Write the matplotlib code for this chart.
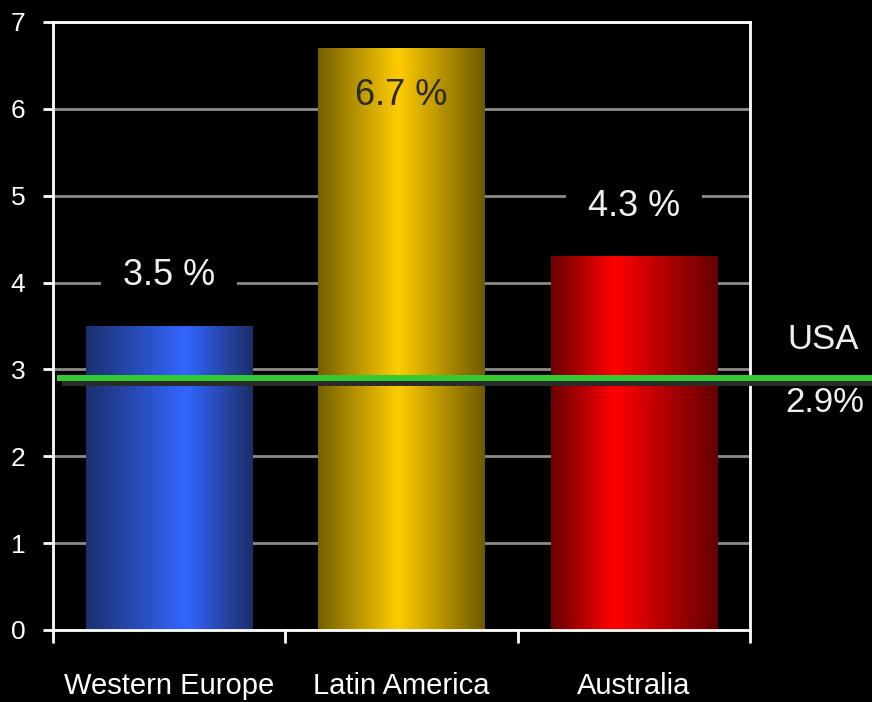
import matplotlib
matplotlib.use("Agg")
import matplotlib.pyplot as plt
import numpy as np
from matplotlib.colors import LinearSegmentedColormap
import matplotlib.transforms as mtransforms

regions = ["Western Europe", "Latin America", "Australia"]
growth = [3.5, 6.7, 4.3]
labels = ["3.5 %", "6.7 %", "4.3 %"]
usa_growth = 2.9

# gradient stops for each bar (position, colour)
grads = [
    [(0.0, "#1c2f6e"), (0.6, "#3366ff"), (1.0, "#1c2e68")],
    [(0.0, "#756000"), (0.48, "#ffcc00"), (1.0, "#6e5a00")],
    [(0.0, "#6a0000"), (0.38, "#ff0000"), (1.0, "#620000")],
]

plt.rcParams['font.family'] = ['Liberation Sans', 'DejaVu Sans']

fig = plt.figure(figsize=(8.72, 7.02), dpi=100, facecolor="black")
ax = fig.add_axes([0.0608, 0.1026, 0.7993, 0.8661], facecolor="black")

x = np.arange(len(regions))
bars = ax.bar(x, growth, width=0.715, color="none", zorder=2)

for bar, stops in zip(bars, grads):
    cmap = LinearSegmentedColormap.from_list("g", stops)
    grad = np.linspace(0, 1, 256).reshape(1, -1)
    x0, y0 = bar.get_x(), bar.get_y()
    im = ax.imshow(grad, cmap=cmap, aspect="auto", zorder=2,
                   extent=[x0, x0 + bar.get_width(), y0, y0 + bar.get_height()])
    im.set_clip_path(bar)

ax.set_xlim(-0.5, 2.5)
ax.set_ylim(0, 7)
ax.set_yticks(range(8))
ax.yaxis.grid(True, color="#8c8c8c", linewidth=2, zorder=0)
ax.set_axisbelow(True)

# value labels
for xi, v, lab in zip(x, growth, labels):
    if v > 6:
        ax.text(xi, v - 0.55, lab, ha="center", va="center", fontsize=26,
                color="#2a2a2a", zorder=4)
    else:
        ax.text(xi, v + 0.58, lab, ha="center", va="center", fontsize=26,
                color="#f0f0f0", zorder=4,
                bbox=dict(boxstyle="square,pad=0.6", fc="black", ec="none"))

# USA reference line with shadow
shadow = mtransforms.offset_copy(ax.transData, fig=fig, x=0, y=-5, units="dots")
trans = mtransforms.blended_transform_factory(ax.transAxes, ax.transData)
shadow_t = mtransforms.blended_transform_factory(ax.transAxes, shadow)
ax.plot([0.013, 1.2], [usa_growth, usa_growth], color="#2b2b2b", lw=4.3,
        transform=shadow_t, clip_on=False, zorder=5, solid_capstyle="butt")
ax.plot([0.006, 1.2], [usa_growth, usa_growth], color="#33cc33", lw=4.3,
        transform=trans, clip_on=False, zorder=6, solid_capstyle="butt")
ax.text(1.105, usa_growth + 0.45, "USA", transform=trans, ha="center",
        va="center", fontsize=25, color="#f0f0f0")
ax.text(1.107, usa_growth - 0.28, "2.9%", transform=trans, ha="center",
        va="center", fontsize=25, color="#f0f0f0")

for s in ax.spines.values():
    s.set_color("white")
    s.set_linewidth(2)

ax.tick_params(axis="y", colors="white", labelsize=19, length=7, width=2, pad=13)
ax.set_xticks([-0.5, 0.5, 1.5, 2.5])
ax.set_xticklabels([])
ax.tick_params(axis="x", which="major", colors="white", length=9, width=2)
ax.set_xticks(x, minor=True)
ax.set_xticklabels(regions, minor=True)
ax.tick_params(axis="x", which="minor", length=0, colors="white",
               labelsize=21, pad=30)

fig.savefig("out.png", dpi=100, facecolor="black")
